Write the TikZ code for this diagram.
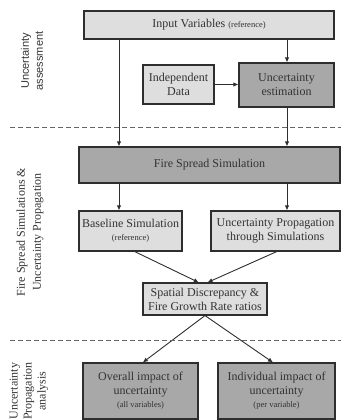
\documentclass[tikz,border=0pt]{standalone}
\usepackage{fontspec}
\setmainfont{Liberation Serif}
\setsansfont{Liberation Sans}
\usetikzlibrary{arrows.meta,calc}
\definecolor{lightbox}{HTML}{DEDEDE}
\definecolor{darkbox}{HTML}{A8A8A8}
\definecolor{edgecol}{HTML}{2E2E2E}
\definecolor{textcol}{HTML}{333333}
\begin{document}
\begin{tikzpicture}[x=1pt,y=-1pt,
  box/.style={draw=edgecol,line width=1.1pt,inner sep=0pt,align=center,text=textcol,
    font=\fontsize{12}{14}\selectfont},
  lightb/.style={box,fill=lightbox},
  darkb/.style={box,fill=darkbox},
  conn/.style={draw=edgecol,line width=0.9pt,-{Latex[length=5pt,width=4.5pt]}},
  sep/.style={draw=gray!80!black,line width=1pt,dash pattern=on 5pt off 3pt},
  sidelab/.style={rotate=90,align=center,text=textcol},
  sm/.style={}]
\useasboundingbox (0,0) rectangle (341,420);
\newcommand{\smalltxt}[1]{{\fontsize{8.5}{10}\selectfont #1}}

\node[lightb,minimum width=250pt,minimum height=28pt] (in) at (209,25) {Input Variables \smalltxt{(reference)}};
\node[lightb,minimum width=71pt,minimum height=39pt] (ind) at (178.5,84.5) {Independent\\Data};
\node[darkb,minimum width=95pt,minimum height=44pt] (est) at (286.5,85) {Uncertainty\\estimation};
\node[darkb,minimum width=261pt,minimum height=36pt] (fs) at (209.5,165) {Fire Spread Simulation};
\node[lightb,minimum width=103pt,minimum height=40pt] (base) at (130.5,231) {Baseline Simulation\\[-1pt]\smalltxt{(reference)}};
\node[lightb,minimum width=129pt,minimum height=40pt] (up) at (275.5,231) {Uncertainty Propagation\\through Simulations};
\node[lightb,minimum width=124pt,minimum height=32pt] (sd) at (205,299) {Spatial Discrepancy \&\\Fire Growth Rate ratios};
\node[darkb,minimum width=115pt,minimum height=56pt] (ov) at (140.5,391) {Overall impact of\\uncertainty\\[-1pt]\smalltxt{(all variables)}};
\node[darkb,minimum width=117pt,minimum height=56pt] (iv) at (276.5,391) {Individual impact of\\uncertainty\\[-1pt]\smalltxt{(per variable)}};

\coordinate (lx) at (119,0);
\coordinate (rx) at (287,0);
\coordinate (sl) at (10,0);
\coordinate (sr) at (341,0);

\draw[conn] (in.south -| lx) -- (fs.north -| lx);
\draw[conn] (in.south -| rx) -- (est.north -| rx);
\draw[conn] (est.south -| rx) -- (fs.north -| rx);
\draw[conn] (ind.east) -- (ind.east -| est.west);
\draw[conn] (fs.south -| lx) -- (base.north -| lx);
\draw[conn] (fs.south -| rx) -- (up.north -| rx);
\draw[conn] ($(base.south west)!0.54!(base.south east)$) -- ($(sd.north west)!0.45!(sd.north east)$);
\draw[conn] ($(up.south west)!0.51!(up.south east)$) -- ($(sd.north west)!0.52!(sd.north east)$);
\draw[conn] (sd.south) -- ($(ov.north west)!0.52!(ov.north east)$);
\draw[conn] (sd.south) -- ($(iv.north west)!0.47!(iv.north east)$);

\coordinate (d1) at (0,127);
\coordinate (d2) at (0,340);
\draw[sep] (d1 -| sl) -- (d1 -| sr);
\draw[sep] (d2 -| sl) -- (d2 -| sr);

\node[sidelab,font=\sffamily\fontsize{11}{14}\selectfont] (l1) at (32,61) {Uncertainty\\assessment};
\node[sidelab,font=\fontsize{12}{16}\selectfont] (l2) at (30,232) {Fire Spread Simulations \&\\Uncertainty Propagation};
\node[sidelab,font=\fontsize{12}{14}\selectfont] (l3) at (29,391) {Uncertainty\\Propagation\\analysis};
\end{tikzpicture}
\end{document}
